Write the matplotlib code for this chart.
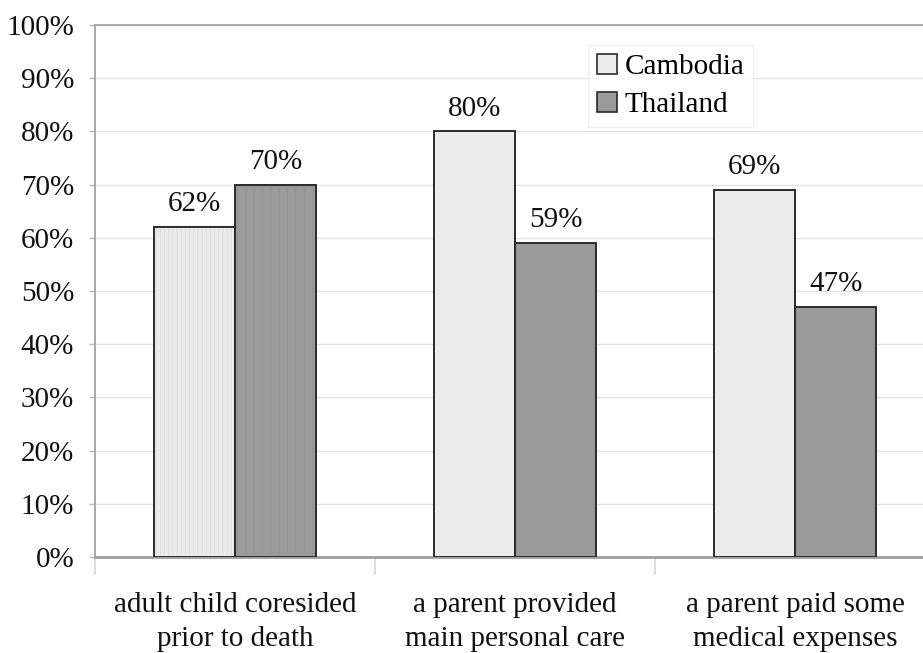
import matplotlib
matplotlib.use("Agg")
import matplotlib.pyplot as plt
import numpy as np
from matplotlib.patches import Patch

categories = ["adult child coresided\nprior to death",
              "a parent provided\nmain personal care",
              "a parent paid some\nmedical expenses"]
cambodia = [62, 80, 69]
thailand = [70, 59, 47]
series_names = ["Cambodia", "Thailand"]
yticks = list(range(0, 101, 10))

plt.rcParams["font.family"] = ["Liberation Serif", "DejaVu Serif"]
FS = 21

fig = plt.figure(figsize=(9.23, 6.53), dpi=100)
ax = fig.add_axes([95 / 923, 1 - 557 / 653, 840 / 923, 532 / 653])

x = np.arange(len(categories))
w = 0.29
c_col = "#ececec"
t_col = "#9a9a9a"
edge = "#2a2a2a"

ax.bar(x - w / 2, cambodia, w, color=c_col, edgecolor=edge, linewidth=1.2, zorder=3)
ax.bar(x + w / 2, thailand, w, color=t_col, edgecolor=edge, linewidth=1.2, zorder=3)

# faint vertical striping on the first pair of bars
plt.rcParams["hatch.linewidth"] = 0.5
ax.bar(x[0] - w / 2, cambodia[0], w, facecolor="none", edgecolor="#d9d9d9",
       hatch="||||", linewidth=0, zorder=3.5)
ax.bar(x[0] + w / 2, thailand[0], w, facecolor="none", edgecolor="#939393",
       hatch="||", linewidth=0, zorder=3.5)
ax.bar(x - w / 2, cambodia, w, facecolor="none", edgecolor=edge, linewidth=1.2, zorder=4)
ax.bar(x + w / 2, thailand, w, facecolor="none", edgecolor=edge, linewidth=1.2, zorder=4)

for xs, vals in ((x - w / 2, cambodia), (x + w / 2, thailand)):
    for xi, v in zip(xs, vals):
        ax.annotate(f"{v}%", (xi, v), xytext=(0, 7), textcoords="offset points",
                    ha="center", va="bottom", fontsize=FS, color="#111111")

ax.set_xlim(-0.5, len(categories) - 0.5)
ax.set_ylim(0, 100)
ax.set_yticks(yticks)
ax.set_yticklabels([f"{t}%" for t in yticks], fontsize=FS, color="#111111")
ax.set_xticks(x)
ax.set_xticklabels(categories, fontsize=FS, color="#111111", linespacing=1.42)
ax.tick_params(axis="x", length=0, pad=25)
ax.set_xticks(np.arange(len(categories) + 1) - 0.5, minor=True)
ax.tick_params(axis="x", which="minor", length=13, color="#d8d8d8", width=1.2, direction="out")
ax.tick_params(axis="y", length=4, color="#bbbbbb", width=1.0, pad=11)

ax.yaxis.grid(True, color="#e4e4e4", linewidth=1.0, zorder=0)
ax.set_axisbelow(True)
for side in ("left", "top", "right"):
    ax.spines[side].set_color("#a8a8a8")
    ax.spines[side].set_linewidth(1.4)
ax.spines["bottom"].set_color("#a0a0a0")
ax.spines["bottom"].set_linewidth(2.0)

handles = [Patch(facecolor=c_col, edgecolor=edge, linewidth=1.2),
           Patch(facecolor=t_col, edgecolor=edge, linewidth=1.2)]
leg = ax.legend(handles, series_names, loc="upper left", bbox_to_anchor=(0.587, 0.962),
                fontsize=FS, frameon=True, fancybox=False, edgecolor="#ececec",
                handlelength=0.7, handleheight=0.7, handletextpad=0.25,
                borderpad=0.3, labelspacing=0.4, borderaxespad=0)
leg.get_frame().set_linewidth(1.0)

fig.savefig("out.png", dpi=100, facecolor="white")
